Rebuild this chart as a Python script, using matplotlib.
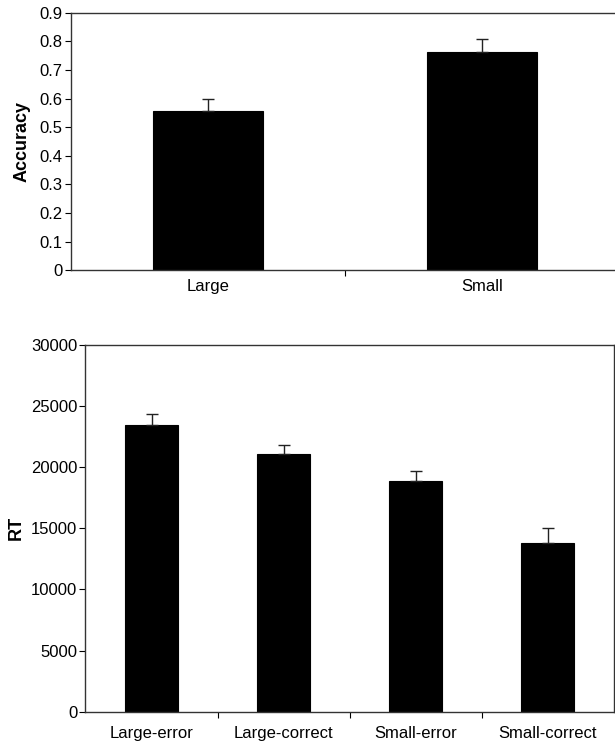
import matplotlib
matplotlib.use("Agg")
import matplotlib.pyplot as plt
import numpy as np

plt.rcParams['font.family'] = ['Liberation Sans', 'DejaVu Sans']

# top panel: accuracy by ratio size
acc_labels = ['Large', 'Small']
acc_values = [0.557, 0.764]
acc_errors = [0.043, 0.045]

# bottom panel: RT by condition
rt_labels = ['Large-error', 'Large-correct', 'Small-error', 'Small-correct']
rt_values = [23480, 21080, 18900, 13770]
rt_errors = [870, 760, 760, 1250]


def draw_bars(ax, labels, values, errors, xpad=6):
    x = np.arange(len(labels))
    ax.bar(x, values, width=0.4, color='black', edgecolor='black', linewidth=0.8)
    ax.errorbar(x, values, yerr=[np.zeros(len(errors)), errors], fmt='none',
                ecolor='#222222', elinewidth=1.0, capsize=4, capthick=1.0)
    ax.set_xlim(-0.5, len(labels) - 0.5)
    ax.set_xticks(x)
    ax.set_xticklabels(labels, fontsize=12)
    ax.tick_params(axis='x', which='major', length=0, pad=xpad)
    # category separators, inner ones only
    ax.set_xticks(np.arange(1, len(labels)) - 0.5, minor=True)
    ax.tick_params(axis='x', which='minor', length=4, direction='out', width=0.8)
    ax.tick_params(axis='y', length=4, direction='out', width=0.8, labelsize=12, pad=2)
    for s in ax.spines.values():
        s.set_linewidth(1.0)
        s.set_color('#333333')


fig = plt.figure(figsize=(6.15, 7.46), dpi=100)

ax1 = fig.add_axes([0.115, 0.6377, 0.892, 0.3453])
draw_bars(ax1, acc_labels, acc_values, acc_errors, xpad=6)
ax1.set_ylim(0, 0.9)
ax1.set_yticks(np.arange(0, 0.91, 0.1))
ax1.set_yticklabels(['0'] + ['%.1f' % v for v in np.arange(0.1, 0.91, 0.1)])
ax1.set_ylabel('Accuracy', fontsize=13, fontweight='bold', labelpad=6)

ax2 = fig.add_axes([0.139, 0.046, 0.859, 0.4915])
draw_bars(ax2, rt_labels, rt_values, rt_errors, xpad=10)
ax2.set_ylim(0, 30000)
ax2.set_yticks(np.arange(0, 30001, 5000))
ax2.set_ylabel('RT', fontsize=13, fontweight='bold', labelpad=4)

fig.savefig('out.png', dpi=100)
